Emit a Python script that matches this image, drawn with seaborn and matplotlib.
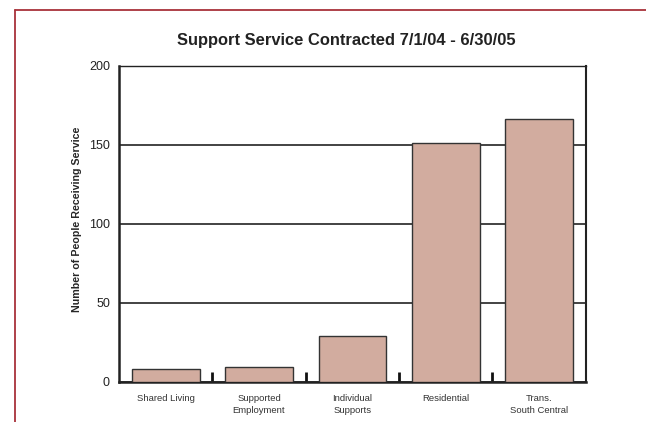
import matplotlib
matplotlib.use('Agg')
import matplotlib.pyplot as plt
import seaborn as sns
import pandas as pd
from matplotlib.lines import Line2D

# data
services = ['Shared Living', 'Supported\nEmployment', 'Individual\nSupports',
            'Residential', 'Trans.\nSouth Central']
people = [8, 9, 29, 151, 166]
y_ticks = [0, 50, 100, 150, 200]

df = pd.DataFrame({'service': services, 'people': people})

sns.set_style('white')
plt.rcParams['font.family'] = ['Liberation Sans', 'DejaVu Sans']

fig = plt.figure(figsize=(6.46, 4.22), dpi=100)
ax = fig.add_axes([0.1842, 0.0955, 0.7225, 0.7488])

sns.barplot(data=df, x='service', y='people', color='#D2AC9F', saturation=1,
            edgecolor='#333333', linewidth=1.0, width=0.725, ax=ax, zorder=3)

ax.set_ylim(0, 200)
ax.set_xlim(-0.5, len(services) - 0.5)
ax.set_yticks(y_ticks)
ax.yaxis.grid(True, color='#222222', linewidth=1.2, zorder=0)
ax.set_axisbelow(True)
ax.tick_params(axis='y', length=0, pad=6.5, labelsize=9, labelcolor='#222222')

# category separators as small inward ticks
ax.set_xticks([i + 0.5 for i in range(len(services) - 1)], minor=True)
ax.tick_params(axis='x', which='minor', bottom=True, direction='in', length=7,
               width=2, color='#111111')
ax.tick_params(axis='x', which='major', length=0, pad=9)
for lab in ax.get_xticklabels():
    lab.set_fontsize(6.8)
    lab.set_color('#333333')
    lab.set_linespacing(1.35)

for side in ['top', 'right', 'left', 'bottom']:
    ax.spines[side].set_visible(True)
    ax.spines[side].set_color('#222222')
ax.spines['left'].set_linewidth(1.8)
ax.spines['bottom'].set_linewidth(1.8)
ax.spines['right'].set_linewidth(1.5)
ax.spines['top'].set_linewidth(1.0)

ax.set_xlabel('')
ax.set_ylabel('Number of People Receiving Service', fontsize=7.7, fontweight='bold',
              labelpad=5, y=0.515)
ax.set_title('Support Service Contracted 7/1/04 - 6/30/05', fontsize=11.9,
             fontweight='bold', pad=15, x=0.487, color='#222222')

# red page border (left and top)
bx, by = 15 / 646, 1 - 10 / 422
fig.add_artist(Line2D([bx, bx], [0, by], transform=fig.transFigure, color='#A8323A', lw=1.3))
fig.add_artist(Line2D([bx, 1], [by, by], transform=fig.transFigure, color='#A8323A', lw=1.3))

fig.savefig('out.png', dpi=100)
